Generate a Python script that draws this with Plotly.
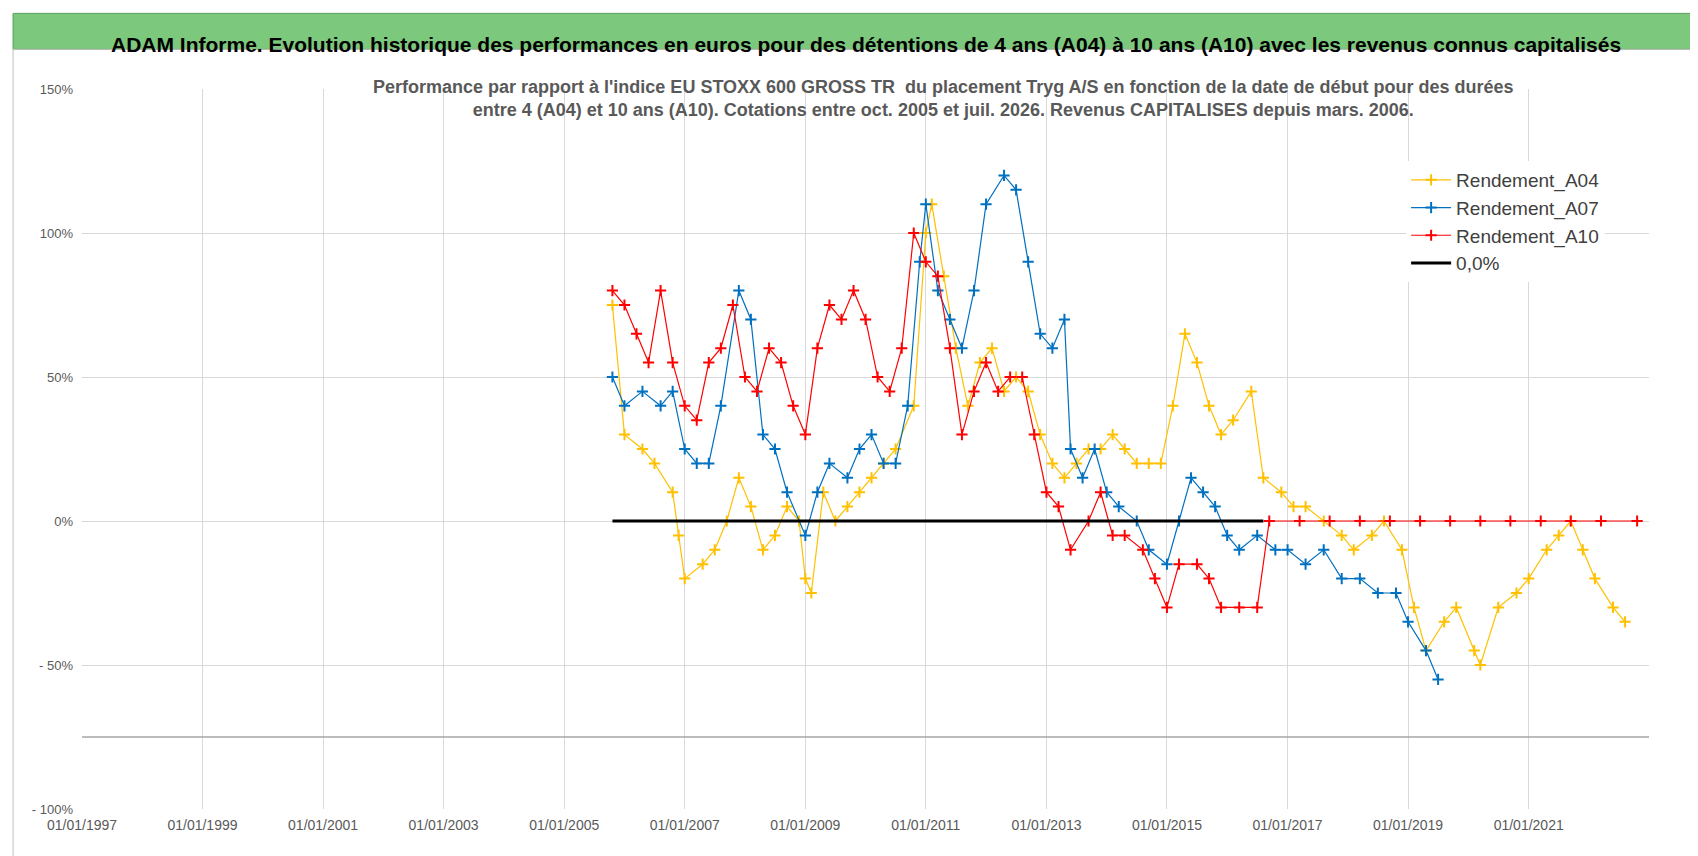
import plotly.graph_objects as go
from datetime import datetime, timedelta

def d(y):
    yr = int(y); return (datetime(yr,1,1)+timedelta(days=(y-yr)*365.25)).strftime("%Y-%m-%d")

a04_x=[2005.8,2006.0,2006.3,2006.5,2006.8,2006.9,2007.0,2007.3,2007.5,2007.7,2007.9,2008.1,2008.3,2008.5,2008.7,2008.9,2009.0,2009.1,2009.3,2009.5,2009.7,2009.9,2010.1,2010.3,2010.5,2010.8,2011.0,2011.1,2011.3,2011.5,2011.7,2011.9,2012.1,2012.3,2012.5,2012.7,2012.9,2013.1,2013.3,2013.5,2013.7,2013.9,2014.1,2014.3,2014.5,2014.7,2014.9,2015.1,2015.3,2015.5,2015.7,2015.9,2016.1,2016.4,2016.6,2016.9,2017.1,2017.3,2017.6,2017.9,2018.1,2018.4,2018.6,2018.9,2019.1,2019.3,2019.6,2019.8,2020.1,2020.2,2020.5,2020.8,2021.0,2021.3,2021.5,2021.7,2021.9,2022.1,2022.4,2022.6]
a04_y=[75,30,25,20,10,-5,-20,-15,-10,0,15,5,-10,-5,5,0,-20,-25,10,0,5,10,15,20,25,40,100,110,85,60,40,55,60,45,50,45,30,20,15,20,25,25,30,25,20,20,20,40,65,55,40,30,35,45,15,10,5,5,0,-5,-10,-5,0,-10,-30,-45,-35,-30,-45,-50,-30,-25,-20,-10,-5,0,-10,-20,-30,-35]
a07_x=[2005.8,2006.0,2006.3,2006.6,2006.8,2007.0,2007.2,2007.4,2007.6,2007.9,2008.1,2008.3,2008.5,2008.7,2009.0,2009.2,2009.4,2009.7,2009.9,2010.1,2010.3,2010.5,2010.7,2010.9,2011.0,2011.2,2011.4,2011.6,2011.8,2012.0,2012.3,2012.5,2012.7,2012.9,2013.1,2013.3,2013.4,2013.6,2013.8,2014.0,2014.2,2014.5,2014.7,2015.0,2015.2,2015.4,2015.6,2015.8,2016.0,2016.2,2016.5,2016.8,2017.0,2017.3,2017.6,2017.9,2018.2,2018.5,2018.8,2019.0,2019.3,2019.5]
a07_y=[50,40,45,40,45,25,20,20,40,80,70,30,25,10,-5,10,20,15,25,30,20,20,40,90,110,80,70,60,80,110,120,115,90,65,60,70,25,15,25,10,5,0,-10,-15,0,15,10,5,-5,-10,-5,-10,-10,-15,-10,-20,-20,-25,-25,-35,-45,-55]
a10_x=[2005.8,2006.0,2006.2,2006.4,2006.6,2006.8,2007.0,2007.2,2007.4,2007.6,2007.8,2008.0,2008.2,2008.4,2008.6,2008.8,2009.0,2009.2,2009.4,2009.6,2009.8,2010.0,2010.2,2010.4,2010.6,2010.8,2011.0,2011.2,2011.4,2011.6,2011.8,2012.0,2012.2,2012.4,2012.6,2012.8,2013.0,2013.2,2013.4,2013.7,2013.9,2014.1,2014.3,2014.6,2014.8,2015.0,2015.2,2015.5,2015.7,2015.9,2016.2,2016.5,2016.7,2017.2,2017.7,2018.2,2018.7,2019.2,2019.7,2020.2,2020.7,2021.2,2021.7,2022.2,2022.8]
a10_y=[80,75,65,55,80,55,40,35,55,60,75,50,45,60,55,40,30,60,75,70,80,70,50,45,60,100,90,85,60,30,45,55,45,50,50,30,10,5,-10,0,10,-5,-5,-10,-20,-30,-15,-15,-20,-30,-30,-30,0,0,0,0,0,0,0,0,0,0,0,0,0]
zero_x=[2005.8,2016.6]
zero_y=[0,0]

fig=go.Figure()
def add(x,y,name,c):
    fig.add_trace(go.Scatter(x=[d(v) for v in x],y=[v/100 for v in y],name=name,mode="lines+markers",
        line=dict(color=c,width=1.2),marker=dict(symbol="cross-thin",size=8,line=dict(color=c,width=2))))
add(a04_x,a04_y,"Rendement_A04","#FFC000")
add(a07_x,a07_y,"Rendement_A07","#0070C0")
add(a10_x,a10_y,"Rendement_A10","#FF0000")
fig.add_trace(go.Scatter(x=[d(v) for v in zero_x],y=zero_y,name="0,0%",mode="lines",line=dict(color="black",width=3)))

fig.update_layout(width=1698,height=856,paper_bgcolor="white",plot_bgcolor="white",
    margin=dict(l=74,r=57,t=81,b=55),font=dict(family="Liberation Sans Narrow, Liberation Sans",color="#595959"),
    xaxis=dict(type="date",range=["1997-01-01","2022-12-31"],dtick="M24",tick0="1997-01-01",tickformat="%d/%m/%Y",
        showgrid=True,gridcolor="#D9D9D9",zeroline=False,tickfont=dict(size=14),ticklabelstandoff=6),
    yaxis=dict(range=[-1,1.5],tickvals=[-1,-0.5,0,0.5,1,1.5],ticktext=["- 100%","- 50%","0%","50%","100%","150%"],
        showgrid=True,gridcolor="#D9D9D9",zeroline=False,tickfont=dict(size=13),ticklabelstandoff=8),
    legend=dict(x=0.845,y=0.9,bgcolor="white",font=dict(size=19,color="#404040"),itemwidth=40,tracegroupgap=20),
    shapes=[dict(type="rect",xref="paper",yref="paper",x0=-0.044,x1=1.035,y0=1.055,y1=1.105,fillcolor="#7CC87C",line=dict(color="#5aa05a",width=1),layer="below"),
            dict(type="rect",xref="paper",yref="paper",x0=-0.044,x1=1.035,y0=-0.07,y1=1.055,line=dict(color="#BFBFBF",width=1),layer="below"),
            dict(type="line",xref="paper",yref="y",x0=0,x1=1,y0=-0.75,y1=-0.75,line=dict(color="#A6A6A6",width=1.5))],
    annotations=[dict(xref="paper",yref="paper",x=0.5,y=1.08,text="<b>ADAM Informe. Evolution historique des performances en euros pour des détentions de 4 ans (A04) à 10 ans (A10) avec les revenus connus capitalisés</b>",
        showarrow=False,font=dict(size=21,color="black")),
        dict(xref="paper",yref="paper",x=0.55,y=1.02,yanchor="top",text="<b>Performance par rapport à l'indice EU STOXX 600 GROSS TR  du placement Tryg A/S en fonction de la date de début pour des durées<br>entre 4 (A04) et 10 ans (A10). Cotations entre oct. 2005 et juil. 2026. Revenus CAPITALISES depuis mars. 2006.</b>",
        showarrow=False,font=dict(size=18,color="#595959"))])
fig.write_html("out.html")
